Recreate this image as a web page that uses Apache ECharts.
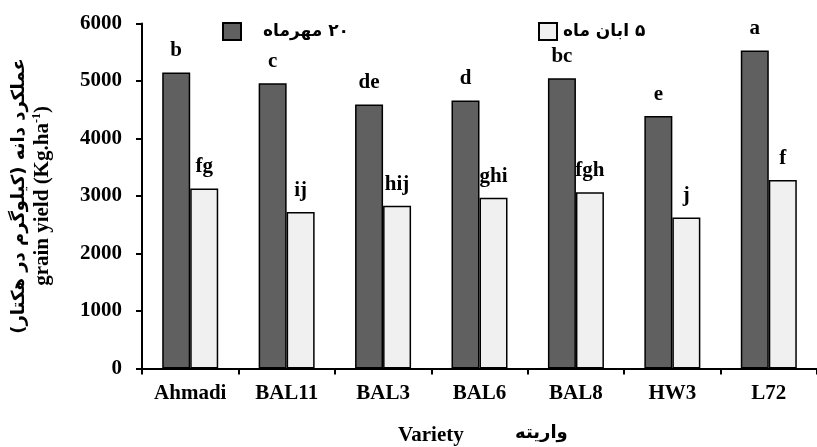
<!DOCTYPE html>
<html>
<head>
<meta charset="utf-8">
<script src="https://cdn.jsdelivr.net/npm/echarts@6/dist/echarts.min.js"></script>
<style>
html,body{margin:0;padding:0;background:#fff;}
#chart{width:817px;height:447px;}
</style>
</head>
<body>
<div id="chart"></div>
<script>
const categories = ['Ahmadi', 'BAL11', 'BAL3', 'BAL6', 'BAL8', 'HW3', 'L72'];
const seriesNames = ['\u202B۲۰ مهرماه\u202C', '\u202B۵ ابان ماه\u202C'];
const mehrValues = [5150, 4960, 4590, 4660, 5050, 4390, 5530];
const abanValues = [3130, 2720, 2830, 2970, 3065, 2625, 3280];
const mehrLetters = ['b', 'c', 'de', 'd', 'bc', 'e', 'a'];
const abanLetters = ['fg', 'ij', 'hij', 'ghi', 'fgh', 'j', 'f'];
const yTicks = [0, 1000, 2000, 3000, 4000, 5000, 6000];

const SERIF = '"Liberation Serif", "Times New Roman", "DejaVu Serif", "DejaVu Sans", serif';
const FS = 21;

const chart = echarts.init(document.getElementById('chart'), null, {renderer: 'canvas'});

function makeData(vals, letters) {
  return vals.map((v, i) => ({value: v, label: {formatter: letters[i]}}));
}

const labelStyle = {
  show: true, position: 'top', distance: 11,
  fontFamily: SERIF, fontWeight: 'bold', fontSize: FS, color: '#000'
};

const option = {
  animation: false,
  backgroundColor: '#fff',
  legend: [
    {
      data: [seriesNames[0]], left: 217, top: 17,
      itemWidth: 18, itemHeight: 17, icon: 'rect',
      textStyle: {fontFamily: '"DejaVu Sans", sans-serif', fontWeight: 'bold', fontSize: 17, color: '#000', padding: [0, 0, 0, 17]}
    },
    {
      data: [seriesNames[1]], left: 533, top: 17,
      itemWidth: 18, itemHeight: 17, icon: 'rect',
      textStyle: {fontFamily: '"DejaVu Sans", sans-serif', fontWeight: 'bold', fontSize: 17, color: '#000', padding: [0, 0, 0, 1]}
    }
  ],
  grid: {left: 142, right: -5, top: 23.5, bottom: 78.5, containLabel: false},
  xAxis: {
    type: 'category',
    data: categories,
    axisLine: {lineStyle: {color: '#000', width: 2}},
    axisTick: {show: true, length: 6, lineStyle: {color: '#000', width: 2}},
    axisLabel: {fontFamily: SERIF, fontWeight: 'bold', fontSize: FS, color: '#000', margin: 15}
  },
  yAxis: {
    type: 'value',
    min: 0, max: 6000, interval: 1000,
    splitLine: {show: false},
    axisLine: {show: true, lineStyle: {color: '#000', width: 2}},
    axisTick: {show: true, length: 6, lineStyle: {color: '#000', width: 2}},
    axisLabel: {fontFamily: SERIF, fontWeight: 'bold', fontSize: FS, color: '#000', margin: 20,
      formatter: v => yTicks.includes(v) ? String(v) : ''},
    name: '{p|\u202Bعملکرد دانه (کیلوگرم در هکتار)\u202C}\n{e|grain yield (Kg.ha}{s|-1}{e|)}',
    nameLocation: 'middle',
    nameRotate: 90,
    nameGap: 88,
    nameTextStyle: {
      color: '#000',
      rich: {
        p: {fontFamily: '"DejaVu Sans", sans-serif', fontWeight: 'bold', fontSize: 18, lineHeight: 23, color: '#000'},
        e: {fontFamily: SERIF, fontWeight: 'bold', fontSize: FS, lineHeight: 23, color: '#000'},
        s: {fontFamily: SERIF, fontWeight: 'bold', fontSize: 12, lineHeight: 23, verticalAlign: 'top', color: '#000'}
      }
    }
  },
  series: [
    {
      name: seriesNames[0], type: 'bar',
      data: makeData(mehrValues, mehrLetters),
      barWidth: 28, barGap: '0%',
      itemStyle: {color: '#606060', borderColor: '#000', borderWidth: 1.5},
      label: labelStyle
    },
    {
      name: seriesNames[1], type: 'bar',
      data: makeData(abanValues, abanLetters),
      barWidth: 28, barGap: '0%',
      itemStyle: {color: '#f0f0f0', borderColor: '#000', borderWidth: 1.5},
      label: labelStyle
    }
  ],
  graphic: [
    {type: 'text', left: 398, top: 425, style: {text: 'Variety', fontFamily: SERIF, fontWeight: 'bold', fontSize: FS, fill: '#000'}},
    {type: 'text', left: 515, top: 424, style: {text: 'واریته', fontFamily: '"DejaVu Sans", sans-serif', fontWeight: 'bold', fontSize: 18, fill: '#000'}}
  ]
};
chart.setOption(option);
</script>
</body>
</html>
